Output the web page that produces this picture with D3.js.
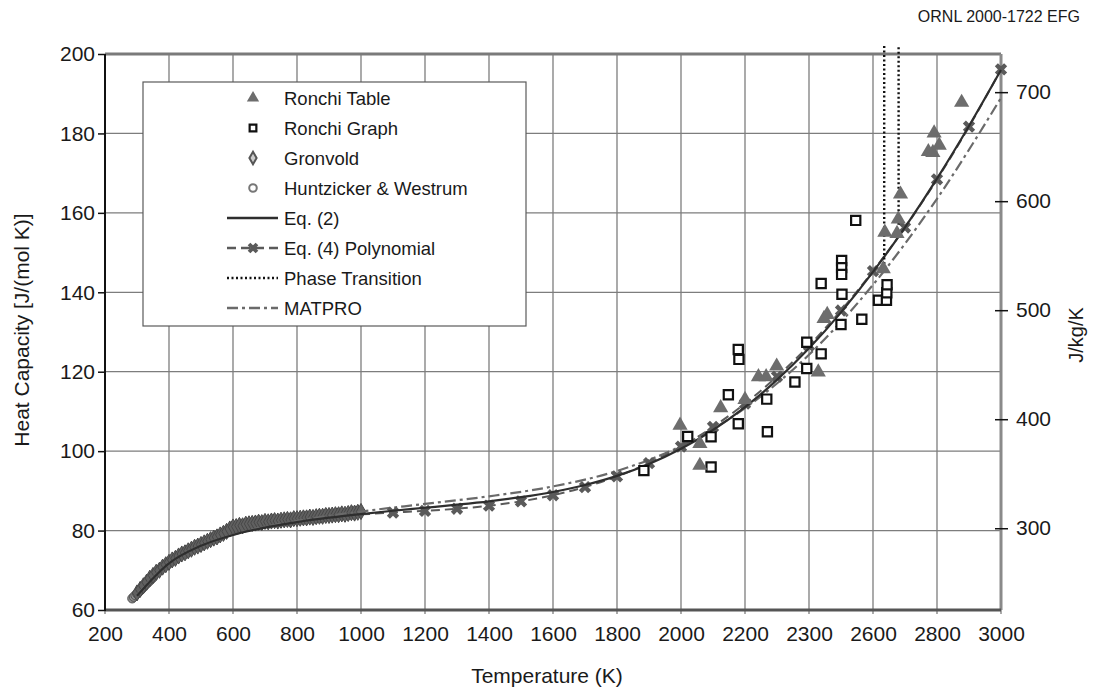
<!DOCTYPE html>
<html>
<head>
<meta charset="utf-8">
<script src="https://cdn.jsdelivr.net/npm/d3@7"></script>
<style>
  body { margin: 0; background: #fff; }
  svg text { font-family: "Liberation Sans", Arial, Helvetica, sans-serif; fill: #1a1a1a; }
</style>
</head>
<body>
<svg id="chart" width="1094" height="687"></svg>
<script>
// tick labels (the reference prints "2300" where 2400 belongs, kept as-is)
var xTicks = [200, 400, 600, 800, 1000, 1200, 1400, 1600, 1800, 2000, 2200, 2400, 2600, 2800, 3000];
var xTickLabels = ["200", "400", "600", "800", "1000", "1200", "1400", "1600", "1800", "2000", "2200", "2300", "2600", "2800", "3000"];
var yTicks = [60, 80, 100, 120, 140, 160, 180, 200];
var y2Ticks = [300, 400, 500, 600, 700];

// Ronchi Table (triangles)
var ronchiTableT  = [1997, 2059, 2059, 2124, 2200, 2242, 2266, 2299, 2429, 2447, 2457, 2632, 2637, 2675, 2679, 2686, 2773, 2787, 2791, 2807, 2877];
var ronchiTableCp = [106.5, 101.9, 96.4, 110.9, 113.0, 118.7, 118.7, 121.4, 119.9, 133.4, 134.4, 145.9, 155.1, 154.8, 158.4, 164.7, 175.4, 175.2, 180.1, 177.0, 187.8];

// Ronchi Graph (open squares)
var ronchiGraphT  = [1884, 2021, 2094, 2094, 2148, 2179, 2181, 2179, 2268, 2270, 2356, 2393, 2393, 2438, 2438, 2502, 2502, 2502, 2503, 2500, 2546, 2565, 2617, 2642, 2643, 2644];
var ronchiGraphCp = [95.1, 103.7, 103.6, 96.0, 114.2, 125.6, 123.1, 106.9, 113.1, 104.9, 117.4, 127.4, 120.8, 124.5, 142.2, 148.0, 146.2, 144.5, 139.5, 131.9, 158.1, 133.2, 138.0, 138.0, 139.9, 141.9];

// Gronvold (diamonds)
var gronvoldT  = [300, 310, 320, 330, 340, 350, 360, 370, 380, 390, 400, 410, 420, 430, 440, 450, 460, 470, 480, 490,
                  500, 510, 520, 530, 540, 550, 560, 570, 580, 590, 600, 610, 620, 630, 640, 650, 660, 670, 680, 690,
                  700, 710, 720, 730, 740, 750, 760, 770, 780, 790, 800, 810, 820, 830, 840, 850, 860, 870, 880, 890,
                  900, 910, 920, 930, 940, 950, 960, 970, 980, 990, 1000];
var gronvoldCp = [64.3, 65.2, 66.1, 67.0, 68.0, 68.7, 69.5, 70.0, 70.8, 71.4, 72.0, 72.6, 73.0, 73.6, 74.1, 74.4, 74.9, 75.3, 75.8, 76.1,
                  76.5, 76.9, 77.3, 77.7, 78.1, 78.4, 78.9, 79.3, 79.8, 80.4, 80.9, 81.0, 81.3, 81.2, 81.6, 81.7, 81.8, 81.9, 82.1, 82.0,
                  82.3, 82.2, 82.4, 82.5, 82.4, 82.6, 82.7, 82.8, 82.7, 83.0, 83.0, 83.1, 83.2, 83.2, 83.4, 83.3, 83.5, 83.6, 83.6, 83.8,
                  83.8, 83.9, 84.0, 84.0, 84.2, 84.1, 84.3, 84.5, 84.4, 84.6, 84.8];

// Huntzicker & Westrum (circles)
var huntzT  = [285, 290, 295, 300, 305, 310, 315, 320, 325, 330, 335, 340, 345, 350];
var huntzCp = [62.9, 63.3, 63.7, 64.1, 64.5, 64.9, 65.3, 65.8, 66.2, 66.6, 67.0, 67.4, 67.8, 68.2];

// Eq. (2)
var eq2T  = [300, 400, 500, 600, 700, 800, 900, 1000, 1100, 1200, 1300, 1400, 1500, 1600, 1700, 1800, 1900, 2000,
             2100, 2200, 2300, 2400, 2500, 2600, 2700, 2800, 2900, 3000];
var eq2Cp = [63.59, 71.76, 76.18, 78.90, 80.76, 82.14, 83.24, 84.16, 84.99, 85.75, 86.52, 87.37, 88.40, 89.72, 91.47, 93.77, 96.77, 100.59,
             105.33, 111.09, 117.93, 125.88, 134.95, 145.12, 156.37, 168.64, 181.88, 195.99];

// Eq. (4) polynomial
var eq4T  = [1000, 1100, 1200, 1300, 1400, 1500, 1600, 1700, 1800, 1900, 2000, 2100, 2200, 2300, 2400, 2500, 2600, 2700, 2800, 2900, 3000];
var eq4Cp = [84.08, 84.52, 84.96, 85.50, 86.26, 87.36, 88.90, 90.96, 93.63, 97.00, 101.14, 106.10, 111.96, 118.77, 126.57, 135.41, 145.31, 156.32, 168.44, 181.70, 196.11];

// MATPRO
var matproT  = [300, 400, 500, 600, 800, 1000, 1200, 1400, 1600, 1800, 2000, 2200, 2400, 2600, 2800, 3000];
var matproCp = [63.84, 71.79, 76.17, 78.95, 82.44, 84.79, 86.72, 88.63, 91.12, 95.01, 101.28, 110.84, 124.28, 141.88, 163.55, 188.95];

// phase transition markers
var phaseT = [2635, 2680];
var phaseCpLow = [146, 157];
var phaseCpHigh = [202, 202];

var legendLabels = ["Ronchi Table", "Ronchi Graph", "Gronvold", "Huntzicker & Westrum", "Eq. (2)", "Eq. (4) Polynomial", "Phase Transition", "MATPRO"];

var margin = {top: 54, right: 93, bottom: 77, left: 105};
var width = 1094, height = 687;
var svg = d3.select("#chart");

var x = d3.scaleLinear().domain([200, 3000]).range([margin.left, width - margin.right]);
var y = d3.scaleLinear().domain([60, 200]).range([height - margin.bottom, margin.top]);
var y2 = d3.scaleLinear().domain([225, 735]).range([height - margin.bottom, margin.top]);

var zip = function(a, b) { return a.map(function(v, i) { return [v, b[i]]; }); };

// grid
var grid = svg.append("g");
grid.selectAll(".vg").data(xTicks).join("line")
    .attr("x1", function(d) { return x(d); }).attr("x2", function(d) { return x(d); })
    .attr("y1", y(60) + 4).attr("y2", y(200))
    .attr("stroke", "#7d7d7d").attr("stroke-width", 1.3);
grid.selectAll(".hg").data(yTicks.slice(1, -1)).join("line")
    .attr("x1", x(200)).attr("x2", x(3000))
    .attr("y1", function(d) { return y(d); }).attr("y2", function(d) { return y(d); })
    .attr("stroke", "#7d7d7d").attr("stroke-width", 1.3);

// frame
svg.append("line").attr("x1", x(200)).attr("x2", x(3000)).attr("y1", y(200)).attr("y2", y(200))
   .attr("stroke", "#7a7a7a").attr("stroke-width", 3);
svg.append("line").attr("x1", x(3000)).attr("x2", x(3000)).attr("y1", y(200)).attr("y2", y(60))
   .attr("stroke", "#8a8a8a").attr("stroke-width", 3);
svg.append("line").attr("x1", x(200)).attr("x2", x(3000)).attr("y1", y(60)).attr("y2", y(60))
   .attr("stroke", "#555").attr("stroke-width", 3);
svg.append("line").attr("x1", x(200)).attr("x2", x(200)).attr("y1", y(200)).attr("y2", y(60) + 1)
   .attr("stroke", "#111").attr("stroke-width", 2);

// axes
var xAxis = svg.append("g").attr("transform", "translate(0," + y(60) + ")")
   .call(d3.axisBottom(x).tickValues(xTicks).tickFormat(function(d, i) { return xTickLabels[i]; }).tickSize(0).tickPadding(16));
xAxis.select(".domain").remove();
xAxis.selectAll("text").style("font-size", "21px");

var yAxis = svg.append("g").attr("transform", "translate(" + x(200) + ",0)")
   .call(d3.axisLeft(y).tickValues(yTicks).tickSize(7).tickPadding(3));
yAxis.select(".domain").remove();
yAxis.selectAll("line").attr("stroke", "#111").attr("stroke-width", 1.5);
yAxis.selectAll("text").style("font-size", "21px");

var y2Axis = svg.append("g").attr("transform", "translate(" + x(3000) + ",0)")
   .call(d3.axisRight(y2).tickValues(y2Ticks).tickSize(7).tickPadding(8));
y2Axis.select(".domain").remove();
y2Axis.selectAll("line").attr("x1", -6).attr("stroke", "#111").attr("stroke-width", 1.5);
y2Axis.selectAll("text").style("font-size", "21px");

// axis titles
svg.append("text").attr("x", (x(200) + x(3000)) / 2 - 6).attr("y", 683)
   .attr("text-anchor", "middle").style("font-size", "21px").text("Temperature (K)");
svg.append("text").attr("transform", "translate(29," + 330 + ") rotate(-90)")
   .attr("text-anchor", "middle").style("font-size", "21px").text("Heat Capacity [J/(mol K)]");
svg.append("text").attr("transform", "translate(1083," + 335 + ") rotate(-90)")
   .attr("text-anchor", "middle").style("font-size", "20px").text("J/kg/K");
svg.append("text").attr("x", 1080).attr("y", 22).attr("text-anchor", "end")
   .style("font-size", "16px").text("ORNL 2000-1722 EFG");

var plot = svg.append("g");

// low temperature data
plot.selectAll(".hw").data(zip(huntzT, huntzCp)).join("circle")
    .attr("cx", function(d) { return x(d[0]); }).attr("cy", function(d) { return y(d[1]); })
    .attr("r", 4.5).attr("fill", "#8a8a8a").attr("stroke", "#555").attr("stroke-width", 1);
plot.selectAll(".gr").data(zip(gronvoldT, gronvoldCp)).join("path")
    .attr("transform", function(d) { return "translate(" + x(d[0]) + "," + y(d[1]) + ")"; })
    .attr("d", d3.symbol().type(d3.symbolDiamond).size(75))
    .attr("fill", "#606060").attr("stroke", "#474747").attr("stroke-width", 1);

// curves
var line = d3.line().curve(d3.curveMonotoneX)
    .x(function(d) { return x(d[0]); }).y(function(d) { return y(d[1]); });

plot.append("path").datum(zip(matproT, matproCp)).attr("d", line)
    .attr("fill", "none").attr("stroke", "#6a6a6a").attr("stroke-width", 2.2)
    .attr("stroke-dasharray", "11,4,3,4");
plot.append("path").datum(zip(eq4T, eq4Cp)).attr("d", line)
    .attr("fill", "none").attr("stroke", "#5a5a5a").attr("stroke-width", 2)
    .attr("stroke-dasharray", "9,5");
plot.selectAll(".eq4m").data(zip(eq4T, eq4Cp).slice(1)).join("path")
    .attr("transform", function(d) { return "translate(" + x(d[0]) + "," + y(d[1]) + ") rotate(45)"; })
    .attr("d", d3.symbol().type(d3.symbolCross).size(95))
    .attr("fill", "#5a5a5a");
plot.append("path").datum(zip(eq2T, eq2Cp)).attr("d", line)
    .attr("fill", "none").attr("stroke", "#2e2e2e").attr("stroke-width", 2.2);

// phase transition
plot.selectAll(".pt").data(phaseT).join("line")
    .attr("x1", function(d) { return x(d); }).attr("x2", function(d) { return x(d); })
    .attr("y1", function(d, i) { return y(phaseCpLow[i]); })
    .attr("y2", function(d, i) { return y(phaseCpHigh[i]); })
    .attr("stroke", "#111").attr("stroke-width", 2.4).attr("stroke-dasharray", "2,2.5");

// Ronchi data
plot.selectAll(".rg").data(zip(ronchiGraphT, ronchiGraphCp)).join("path")
    .attr("transform", function(d) { return "translate(" + x(d[0]) + "," + y(d[1]) + ")"; })
    .attr("d", d3.symbol().type(d3.symbolSquare).size(85))
    .attr("fill", "#fff").attr("stroke", "#111").attr("stroke-width", 2.2);
plot.selectAll(".rt").data(zip(ronchiTableT, ronchiTableCp)).join("path")
    .attr("transform", function(d) { return "translate(" + x(d[0]) + "," + y(d[1]) + ")"; })
    .attr("d", d3.symbol().type(d3.symbolTriangle).size(100))
    .attr("fill", "#6d6d6d");

// legend
var lg = svg.append("g");
lg.append("rect").attr("x", 143).attr("y", 82).attr("width", 383).attr("height", 244)
  .attr("fill", "#fff").attr("stroke", "#5a5a5a").attr("stroke-width", 1.2);
var rowY = function(i) { return 98 + i * 30; };
lg.selectAll(".lt").data(legendLabels).join("text")
  .attr("x", 284).attr("y", function(d, i) { return rowY(i) + 7; })
  .style("font-size", "18.5px").text(function(d) { return d; });
lg.append("path").attr("transform", "translate(253," + rowY(0) + ")")
  .attr("d", d3.symbol().type(d3.symbolTriangle).size(65)).attr("fill", "#6d6d6d");
lg.append("path").attr("transform", "translate(253," + rowY(1) + ")")
  .attr("d", d3.symbol().type(d3.symbolSquare).size(45)).attr("fill", "#fff").attr("stroke", "#111").attr("stroke-width", 2.2);
lg.append("path").attr("transform", "translate(253," + rowY(2) + ")")
  .attr("d", d3.symbol().type(d3.symbolDiamond).size(45)).attr("fill", "#ccc").attr("stroke", "#555").attr("stroke-width", 2);
lg.append("circle").attr("cx", 253).attr("cy", rowY(3)).attr("r", 3.8)
  .attr("fill", "#fff").attr("stroke", "#777").attr("stroke-width", 2);
var lineStyles = [
  {stroke: "#2e2e2e", dash: null},
  {stroke: "#5a5a5a", dash: "9,5"},
  {stroke: "#111", dash: "2,2.5"},
  {stroke: "#6a6a6a", dash: "11,4,3,4"}
];
lineStyles.forEach(function(s, i) {
  lg.append("line").attr("x1", 227).attr("x2", 278).attr("y1", rowY(4 + i)).attr("y2", rowY(4 + i))
    .attr("stroke", s.stroke).attr("stroke-width", 2.4).attr("stroke-dasharray", s.dash);
});
lg.append("path").attr("transform", "translate(253," + rowY(5) + ") rotate(45)")
  .attr("d", d3.symbol().type(d3.symbolCross).size(70)).attr("fill", "#5a5a5a");
</script>
</body>
</html>
